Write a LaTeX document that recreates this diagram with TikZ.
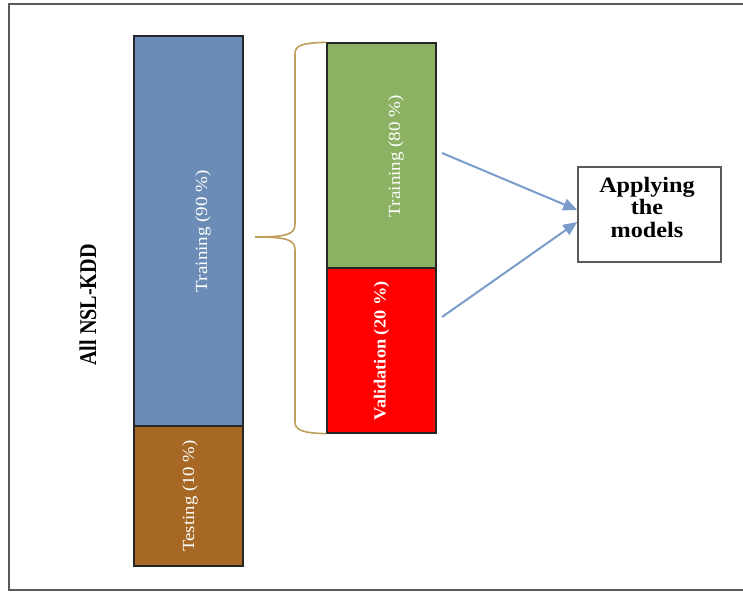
\documentclass[tikz,border=0pt]{standalone}
\usepackage{fontspec}
\setmainfont{Liberation Serif}
\usetikzlibrary{arrows.meta,calc}
\definecolor{barblue}{RGB}{106,140,182}
\definecolor{barbrown}{RGB}{166,104,36}
\definecolor{bargreen}{RGB}{139,178,98}
\definecolor{barred}{RGB}{255,0,0}
\definecolor{bracecol}{RGB}{190,160,90}
\definecolor{arrowcol}{RGB}{122,156,203}
\definecolor{framecol}{RGB}{90,90,90}
\begin{document}
\begin{tikzpicture}[x=1pt,y=-1pt,
  bar/.style={draw=black!85,line width=1.3pt,minimum width=109pt,inner sep=0pt,anchor=center},
  barlabel/.style={text=white,rotate=90,inner sep=0pt,font=\fontsize{17}{20}\selectfont},
  conn/.style={draw=arrowcol,line width=2pt,-{Triangle[length=14pt,width=12pt]}},
  bracestyle/.style={draw=bracecol,line width=1.6pt}]
\useasboundingbox (0,0) rectangle (743,592);
% outer frame (no right side visible)
\draw[framecol,line width=1.5pt] (743,4) -- (9,4) -- (9,590) -- (743,590);
% bars
\node[bar,fill=barblue,minimum height=390pt] (blue) at (188.5,231) {};
\node[bar,fill=barbrown,minimum height=140pt] (brown) at (188.5,496) {};
\node[bar,fill=bargreen,minimum height=225pt] (green) at (381.5,155.5) {};
\node[bar,fill=barred,minimum height=165pt] (red) at (381.5,350.5) {};
% labels
\node[barlabel] (lblue) at (203,231) {\scalebox{1.12}[1]{Training (90 \%)}};
\node[barlabel] (lbrown) at (190,496) {\scalebox{1.1}[1]{Testing (10 \%)}};
\node[barlabel] (lgreen) at (396,156) {\scalebox{1.12}[1]{Training (80 \%)}};
\node[barlabel,font=\fontsize{17}{20}\selectfont\bfseries] (lred) at (381.5,351) {\scalebox{1.08}[1]{Validation (20 \%)}};
\node[rotate=90,inner sep=0pt,font=\fontsize{24}{26}\selectfont\bfseries] (all) at (88,305) {\scalebox{0.84}[1]{All NSL-KDD}};
% result box
\node[draw=framecol,line width=1.5pt,minimum width=143pt,minimum height=95pt,inner sep=0pt] (box) at (649.5,214.5) {};
\node[align=center,inner sep=0pt,anchor=north,font=\fontsize{22}{22.5}\selectfont\bfseries] (boxtext) at (647,177) {\scalebox{1.1}[1]{Applying}\\\scalebox{1.1}[1]{the}\\\scalebox{1.1}[1]{models}};
% brace
\coordinate (btop) at (green.north west);
\coordinate (bbot) at (red.south west);
\coordinate (btip) at (255,237);
\draw[bracestyle] (btop) .. controls (302,43) and (295,45) .. (295,54)
  -- (295,224) .. controls (295,234) and (288,237) .. (btip)
  .. controls (288,237) and (295,240) .. (295,250)
  -- (295,422) .. controls (295,430) and (302,433) .. (bbot);
% arrows
\coordinate (s1) at (442,153);
\coordinate (s2) at (442,317);
\draw[conn] (s1) -- ([yshift=4.5pt]box.west);
\draw[conn] (s2) -- ([yshift=-7.5pt]box.west);
\end{tikzpicture}
\end{document}
